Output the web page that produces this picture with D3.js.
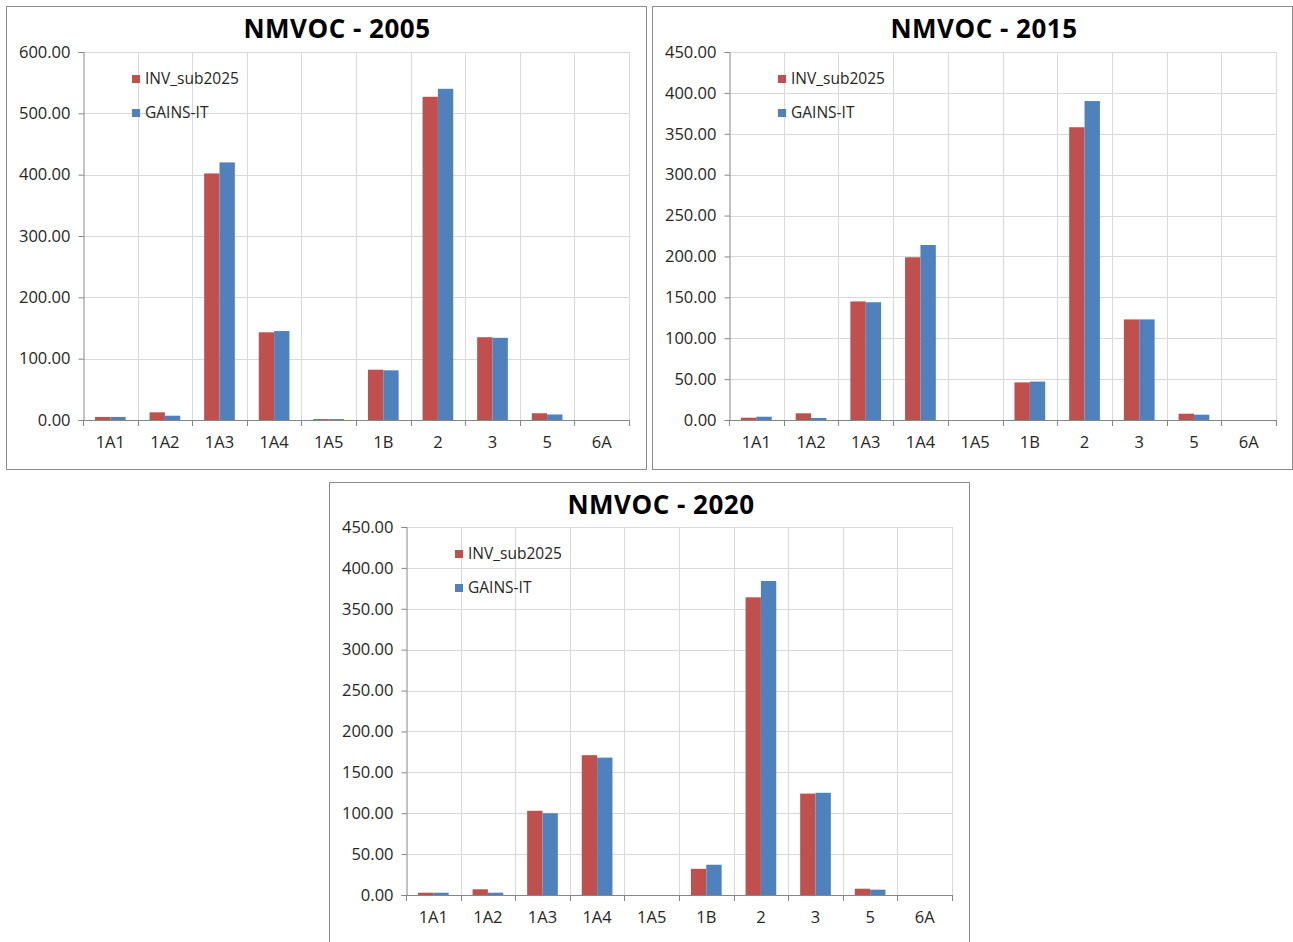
<!DOCTYPE html>
<html>
<head>
<meta charset="utf-8">
<script src="https://cdn.jsdelivr.net/npm/d3@7"></script>
<style>
  body { margin: 0; background: #fff; }
  text { font-family: "Open Sans", "DejaVu Sans", sans-serif; fill: #262626; }
  .title { font-weight: bold; font-size: 26px; fill: #000; letter-spacing: 0.5px; }
  .tick-label { font-size: 16.5px; }
  .legend-label { font-size: 15.5px; }
</style>
</head>
<body>
<svg id="chart" width="1293" height="942"></svg>
<script>
// categories along the x axis (same for the three charts)
var categories = ["1A1", "1A2", "1A3", "1A4", "1A5", "1B", "2", "3", "5", "6A"];
var seriesNames = ["INV_sub2025", "GAINS-IT"];
var seriesColors = ["#C0504D", "#4F81BD"];

// values
var inv2005   = [5, 12.5, 402, 143, 1.5, 82, 527, 135, 11, 0];
var gains2005 = [5, 7, 420, 145, 1.5, 81, 540, 134, 9, 0];
var inv2015   = [2.8, 8.2, 145, 199, 0, 46, 358, 123, 7.7, 0];
var gains2015 = [4, 2.5, 144, 214, 0, 47, 390, 123, 6.5, 0];
var inv2020   = [2.8, 7, 103, 171, 0, 32, 364, 124, 7.7, 0];
var gains2020 = [2.8, 2.8, 100, 168, 0, 37, 384, 125, 6.5, 0];

// y tick values
var ticks2005 = [0, 100, 200, 300, 400, 500, 600];
var ticks2015 = [0, 50, 100, 150, 200, 250, 300, 350, 400, 450];
var ticks2020 = [0, 50, 100, 150, 200, 250, 300, 350, 400, 450];

var svg = d3.select("#chart");
var fmt = d3.format(".2f");

/*
// Draws one panel: border, title, grid, bars, axes and legend
*/
function DrawPanel(cfg)
{
  var g = svg.append("g");

  // outer border of the chart area
  g.append("rect")
   .attr("x", cfg.box[0] + 0.5).attr("y", cfg.box[1] + 0.5)
   .attr("width", cfg.box[2]).attr("height", cfg.box[3])
   .attr("fill", "#fff").attr("stroke", "#8c8c8c").attr("stroke-width", 1);

  g.append("text").attr("class", "title")
   .attr("x", cfg.titleX).attr("y", cfg.titleY)
   .attr("text-anchor", "middle")
   .text(cfg.title);

  var x = d3.scaleBand().domain(categories).range([cfg.left, cfg.right]).padding(0);
  var x1 = d3.scaleBand().domain([0, 1]).range([0, x.bandwidth()])
             .paddingInner(0).paddingOuter(0.78);
  var yMax = cfg.ticks[cfg.ticks.length - 1];
  var y = d3.scaleLinear().domain([0, yMax]).range([cfg.bottom, cfg.top]);

  // horizontal gridlines
  g.selectAll(".hgrid").data(cfg.ticks.slice(1)).enter().append("line")
   .attr("x1", cfg.left).attr("x2", cfg.right)
   .attr("y1", function(d) {return Math.round(y(d)) + 0.5;})
   .attr("y2", function(d) {return Math.round(y(d)) + 0.5;})
   .attr("stroke", "#d9d9d9");

  // vertical gridlines at category boundaries
  var bounds = categories.map(function(c) {return x(c);}).concat([cfg.right]);
  g.selectAll(".vgrid").data(bounds.slice(1)).enter().append("line")
   .attr("x1", function(d) {return Math.round(d) + 0.5;})
   .attr("x2", function(d) {return Math.round(d) + 0.5;})
   .attr("y1", cfg.top).attr("y2", cfg.bottom)
   .attr("stroke", "#d9d9d9");

  // bars
  var rows = categories.map(function(c, i) {return {cat: c, vals: [cfg.inv[i], cfg.gains[i]]};});
  var groups = g.selectAll(".cat").data(rows).enter().append("g")
                .attr("transform", function(d) {return "translate(" + x(d.cat) + ",0)";});
  groups.selectAll("rect").data(function(d) {return d.vals;}).enter().append("rect")
        .attr("x", function(d, i) {return x1(i);})
        .attr("width", x1.bandwidth())
        .attr("y", function(d) {return y(d);})
        .attr("height", function(d) {return cfg.bottom - y(d);})
        .attr("fill", function(d, i) {return seriesColors[i];});

  // y axis
  var yAxis = d3.axisLeft(y).tickValues(cfg.ticks).tickSize(5).tickPadding(8).tickFormat(fmt);
  var ya = g.append("g").attr("transform", "translate(" + (Math.round(cfg.left) + 0.5) + ",0)").call(yAxis);
  ya.attr("font-size", null).attr("font-family", null);
  ya.select(".domain").attr("stroke", "#868686");
  ya.selectAll(".tick line").attr("stroke", "#868686");
  ya.selectAll(".tick text").attr("class", "tick-label").attr("fill", "#262626");

  // x axis line with ticks at the boundaries
  g.append("line")
   .attr("x1", cfg.left).attr("x2", cfg.right)
   .attr("y1", cfg.bottom + 0.5).attr("y2", cfg.bottom + 0.5)
   .attr("stroke", "#868686");
  g.selectAll(".xtick").data(bounds).enter().append("line")
   .attr("x1", function(d) {return Math.round(d) + 0.5;})
   .attr("x2", function(d) {return Math.round(d) + 0.5;})
   .attr("y1", cfg.bottom).attr("y2", cfg.bottom + 6)
   .attr("stroke", "#868686");
  g.selectAll(".xlabel").data(categories).enter().append("text")
   .attr("class", "tick-label")
   .attr("x", function(d) {return x(d) + x.bandwidth() / 2;})
   .attr("y", cfg.bottom + 28)
   .attr("text-anchor", "middle")
   .text(function(d) {return d;});

  // legend
  seriesNames.forEach(function(name, i) {
    var ly = cfg.top + 23 + i * 34;
    g.append("rect").attr("x", cfg.left + 49).attr("y", ly)
     .attr("width", 8).attr("height", 8).attr("fill", seriesColors[i]);
    g.append("text").attr("class", "legend-label")
     .attr("x", cfg.left + 62).attr("y", ly + 9)
     .text(name);
  });
}

DrawPanel({title: "NMVOC - 2005", box: [6, 6, 640, 463], titleX: 337, titleY: 38,
           left: 83, right: 629, top: 52, bottom: 420,
           ticks: ticks2005, inv: inv2005, gains: gains2005});
DrawPanel({title: "NMVOC - 2015", box: [652, 6, 640, 463], titleX: 984, titleY: 38,
           left: 729, right: 1276, top: 52, bottom: 420,
           ticks: ticks2015, inv: inv2015, gains: gains2015});
DrawPanel({title: "NMVOC - 2020", box: [329, 482, 640, 470], titleX: 661, titleY: 514,
           left: 406, right: 952, top: 527, bottom: 895,
           ticks: ticks2020, inv: inv2020, gains: gains2020});
</script>
</body>
</html>
